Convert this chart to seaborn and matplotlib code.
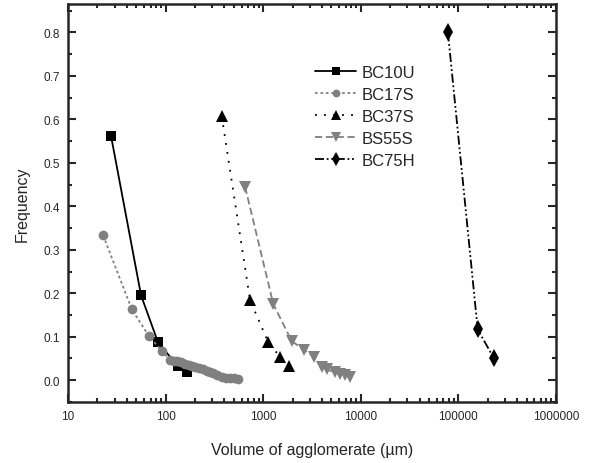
import matplotlib
matplotlib.use("Agg")
import matplotlib.pyplot as plt
import matplotlib.ticker as mticker
import numpy as np
import pandas as pd
import seaborn as sns

# values
bc10u_x = [27.6, 56, 83.6, 134, 166]
bc10u_y = [0.561, 0.195, 0.087, 0.032, 0.018]

bc17s_x = [22.9, 45, 67.6, 92, 111, 122, 130, 145, 158, 172, 185, 200, 221, 240, 264, 285, 308, 340, 375, 415, 457, 505, 556]
bc17s_y = [0.333, 0.163, 0.101, 0.067, 0.046, 0.044, 0.044, 0.041, 0.038, 0.035, 0.033, 0.031, 0.029, 0.025, 0.021, 0.019, 0.017, 0.011, 0.007, 0.006, 0.006, 0.005, 0.004]

bc37s_x = [376, 733, 1128, 1486, 1849]
bc37s_y = [0.607, 0.184, 0.087, 0.054, 0.033]

bs55s_x = [652, 1270, 1960, 2620, 3310, 3980, 4470, 5450, 6120, 6890, 7770]
bs55s_y = [0.445, 0.175, 0.090, 0.070, 0.054, 0.031, 0.025, 0.018, 0.014, 0.011, 0.008]

bc75h_x = [78200, 158000, 232000]
bc75h_y = [0.800, 0.117, 0.050]

names = ["BC10U", "BC17S", "BC37S", "BS55S", "BC75H"]
xs = [bc10u_x, bc17s_x, bc37s_x, bs55s_x, bc75h_x]
ys = [bc10u_y, bc17s_y, bc37s_y, bs55s_y, bc75h_y]

# styling per series
colors = ["black", "#808080", "black", "#808080", "black"]
markers = ["s", "o", "^", "v", "d"]
dashes = [(None, None), (1.5, 1.5), (1, 4), (4, 2), (5, 1.5, 1, 1.5, 1, 1.5)]
msizes = [7.5, 7, 9, 9, 9]

sns.set_style("ticks")
plt.rcParams['font.family'] = ['Liberation Sans', 'DejaVu Sans']

fig = plt.figure(figsize=(5.92, 4.64), dpi=100)
ax = fig.add_axes([0.115, 0.1315, 0.824, 0.8575])

for i, name in enumerate(names):
    df = pd.DataFrame({"x": xs[i], "y": ys[i]})
    sns.lineplot(data=df, x="x", y="y", ax=ax, sort=False, estimator=None,
                 color=colors[i], marker=markers[i], markersize=msizes[i],
                 markeredgewidth=0, linewidth=1.3, label=name)
    l = ax.get_lines()[-1]
    if dashes[i][0] is None:
        l.set_linestyle("-")
    else:
        l.set_dashes(dashes[i])

ax.set_xscale("log")
ax.set_xlim(10, 1000000)
ax.set_ylim(-0.05, 0.865)
ax.xaxis.set_major_formatter(mticker.FuncFormatter(lambda v, p: "%d" % v))
ax.set_yticks(np.arange(0, 0.81, 0.1))
ax.yaxis.set_minor_locator(mticker.MultipleLocator(0.05))
ax.xaxis.set_minor_locator(mticker.LogLocator(base=10, subs=np.arange(2, 10)))
ax.xaxis.set_minor_formatter(mticker.NullFormatter())
ax.yaxis.set_major_formatter(mticker.FormatStrFormatter("%.1f"))

ax.tick_params(which="both", direction="in", top=True, right=True, labelsize=8.5, width=1.5)
ax.tick_params(which="major", length=6, pad=6)
ax.tick_params(which="minor", length=3)
for s in ax.spines.values():
    s.set_linewidth(1.8)

ax.set_xlabel("Volume of agglomerate (\u00b5m)", fontsize=11.5, labelpad=14)
ax.set_ylabel("Frequency", fontsize=11.5, labelpad=10)

leg = ax.legend(loc="upper left", bbox_to_anchor=(0.475, 0.885), frameon=False,
                fontsize=12, handlelength=2.5, handletextpad=0.3, labelspacing=0.42,
                markerscale=0.8)

fig.savefig("out.png", dpi=100)
